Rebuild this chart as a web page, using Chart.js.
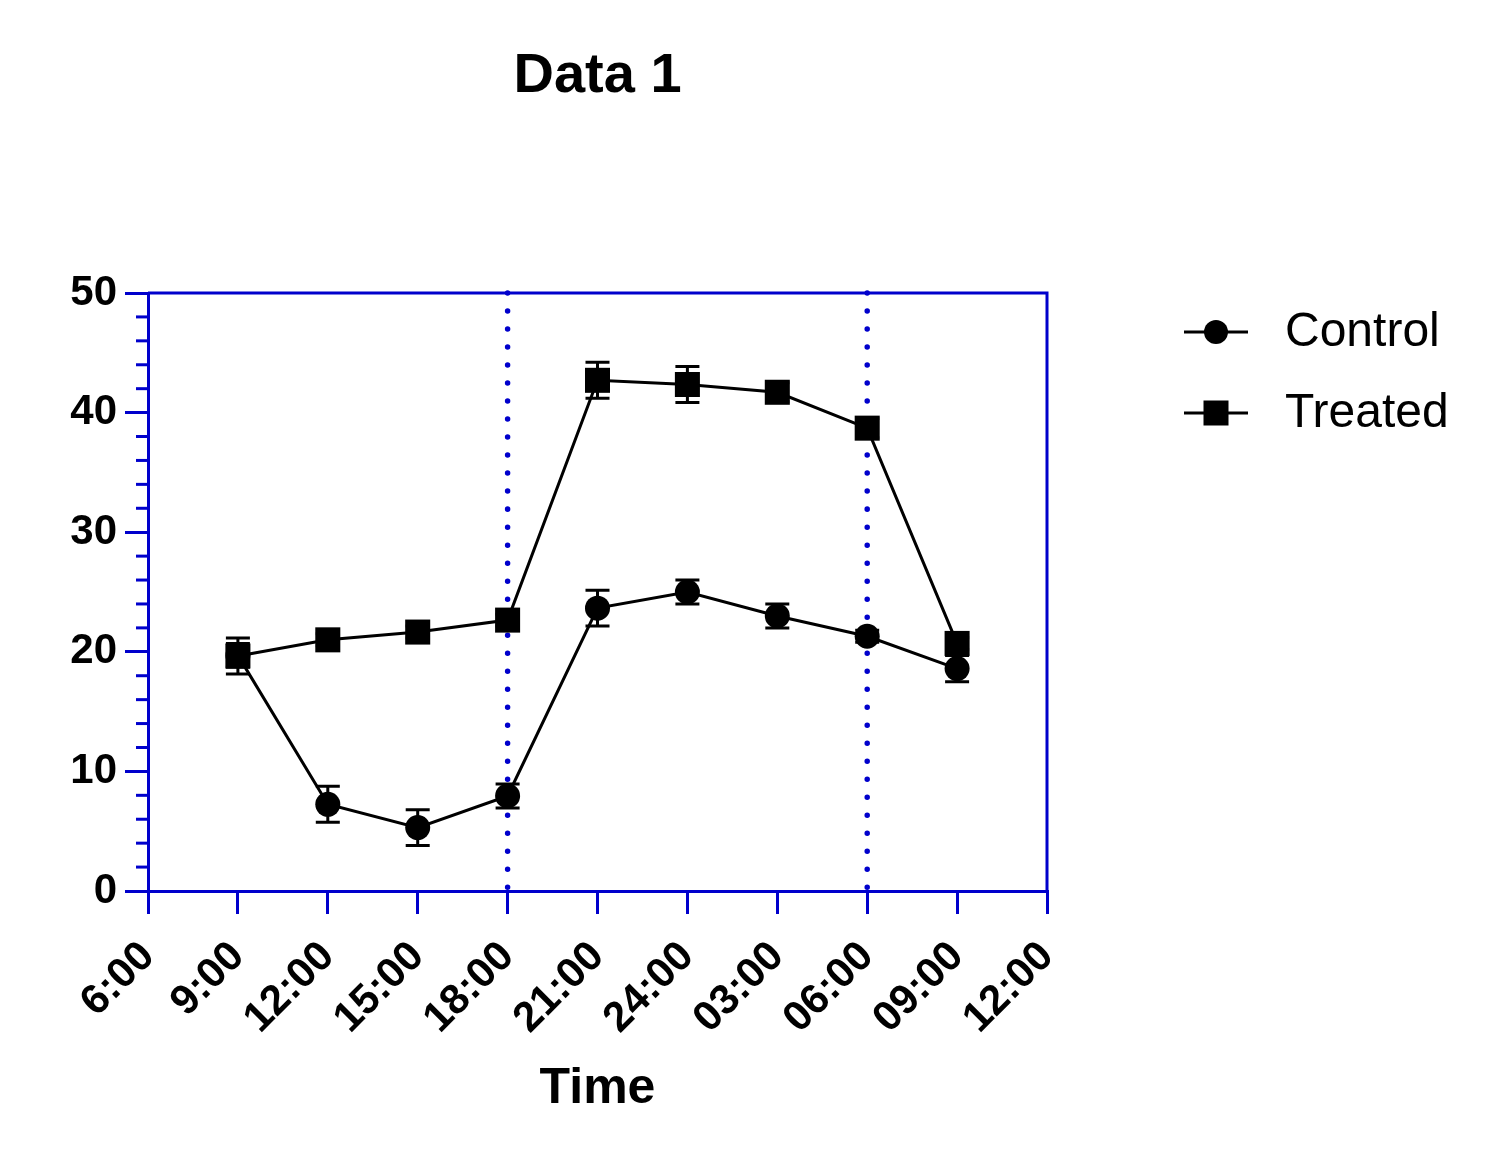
<!DOCTYPE html>
<html>
<head>
<meta charset="utf-8">
<script src="https://cdn.jsdelivr.net/npm/chart.js@4/dist/chart.umd.min.js"></script>
<style>
  html, body { margin: 0; padding: 0; background: #ffffff; }
  #wrap { width: 1492px; height: 1159px; }
</style>
</head>
<body>
<div id="wrap"><canvas id="c" width="1492" height="1159"></canvas></div>
<script>
// ---- data ----
const xHours = [3, 6, 9, 12, 15, 18, 21, 24, 27];           // hours after 6:00
const xTickLabels = ['6:00', '9:00', '12:00', '15:00', '18:00', '21:00', '24:00', '03:00', '06:00', '09:00', '12:00'];
const controlMean = [19.7, 7.25, 5.3, 7.95, 23.65, 25.0, 23.0, 21.3, 18.6];
const controlErr  = [1.0, 1.5, 1.5, 1.0, 1.5, 1.0, 1.0, 0.5, 1.1];
const treatedMean = [19.65, 21.0, 21.65, 22.65, 42.7, 42.35, 41.7, 38.7, 20.7];
const treatedErr  = [1.5, 0.5, 0.5, 0.5, 1.5, 1.5, 0.8, 0.8, 0.5];
const refLines = [12, 24];                                    // 18:00 and 06:00
const seriesNames = ['Control', 'Treated'];
const chartTitle = 'Data 1';
const xTitle = 'Time';

const FONT = "'Liberation Sans', Arial, sans-serif";
const BLUE = '#0000CC';

const toPoints = (ys) => xHours.map((x, i) => ({ x: x, y: ys[i] }));

const errorBars = {
  id: 'errorBars',
  beforeDatasetsDraw(chart) {
    const { ctx, scales: { x, y } } = chart;
    const sets = [[controlMean, controlErr], [treatedMean, treatedErr]];
    ctx.save();
    ctx.strokeStyle = '#000';
    ctx.lineWidth = 3;
    sets.forEach(([m, e]) => {
      xHours.forEach((h, i) => {
        const px = x.getPixelForValue(h);
        const top = y.getPixelForValue(m[i] + e[i]);
        const bot = y.getPixelForValue(m[i] - e[i]);
        ctx.beginPath();
        ctx.moveTo(px, top); ctx.lineTo(px, bot);
        ctx.moveTo(px - 12, top); ctx.lineTo(px + 12, top);
        ctx.moveTo(px - 12, bot); ctx.lineTo(px + 12, bot);
        ctx.stroke();
      });
    });
    ctx.restore();
  }
};

const decorations = {
  id: 'decorations',
  beforeDatasetsDraw(chart) {
    const { ctx, chartArea: a, scales: { x, y } } = chart;
    ctx.save();
    // dotted reference lines
    ctx.strokeStyle = BLUE;
    ctx.lineWidth = 5.5;
    ctx.lineCap = 'round';
    ctx.setLineDash([0.01, 18]);
    refLines.forEach(h => {
      const px = x.getPixelForValue(h);
      ctx.beginPath();
      ctx.moveTo(px, y.getPixelForValue(50));
      ctx.lineTo(px, y.getPixelForValue(0));
      ctx.stroke();
    });
    ctx.setLineDash([]);
    ctx.lineCap = 'butt';
    // box top & right
    ctx.lineWidth = 3;
    ctx.beginPath();
    ctx.moveTo(a.left, a.top); ctx.lineTo(a.right, a.top); ctx.lineTo(a.right, a.bottom);
    ctx.stroke();
    // minor y ticks
    for (let v = 2; v < 50; v += 2) {
      if (v % 10 === 0) continue;
      const py = y.getPixelForValue(v);
      ctx.beginPath();
      ctx.moveTo(a.left - 12, py); ctx.lineTo(a.left, py);
      ctx.stroke();
    }
    ctx.restore();
  },
  afterDraw(chart) {
    const { ctx, chartArea: a } = chart;
    ctx.save();
    // title
    ctx.fillStyle = '#000';
    ctx.font = 'bold 56px ' + FONT;
    ctx.textAlign = 'center';
    ctx.textBaseline = 'middle';
    ctx.fillText(chartTitle, (a.left + a.right) / 2, 77);
    // legend
    const rows = [332, 413];
    rows.forEach((ry, i) => {
      ctx.strokeStyle = '#000';
      ctx.lineWidth = 3;
      ctx.beginPath();
      ctx.moveTo(1184, ry); ctx.lineTo(1248, ry);
      ctx.stroke();
      ctx.fillStyle = '#000';
      if (i === 0) {
        ctx.beginPath(); ctx.arc(1216, ry, 12, 0, Math.PI * 2); ctx.fill();
      } else {
        ctx.fillRect(1216 - 12.5, ry - 12.5, 25, 25);
      }
      ctx.font = '48px ' + FONT;
      ctx.textAlign = 'left';
      ctx.textBaseline = 'middle';
      ctx.fillText(seriesNames[i], 1285, ry + 1);
    });
    ctx.restore();
  }
};

new Chart(document.getElementById('c'), {
  type: 'line',
  data: {
    datasets: [
      {
        label: seriesNames[0],
        data: toPoints(controlMean),
        borderColor: '#000', backgroundColor: '#000',
        borderWidth: 3,
        pointStyle: 'circle', pointRadius: 12.5, pointHoverRadius: 12.5,
        pointBorderWidth: 0, tension: 0
      },
      {
        label: seriesNames[1],
        data: toPoints(treatedMean),
        borderColor: '#000', backgroundColor: '#000',
        borderWidth: 3,
        pointStyle: 'rect', pointRadius: 17.7, pointHoverRadius: 17.7,
        pointBorderWidth: 0, tension: 0
      }
    ]
  },
  options: {
    responsive: false,
    animation: false,
    devicePixelRatio: 1,
    layout: { padding: { top: 293, right: 445, left: 0, bottom: 0 } },
    plugins: {
      legend: { display: false },
      title: { display: false },
      tooltip: { enabled: false }
    },
    scales: {
      x: {
        type: 'linear',
        min: 0, max: 30,
        afterFit(s) { s.height = 1159 - 891; },
        ticks: {
          stepSize: 3,
          autoSkip: false,
          minRotation: 45, maxRotation: 45,
          color: '#000',
          padding: 18,
          font: { family: FONT, size: 42, weight: 'bold' },
          callback: (v) => xTickLabels[Math.round(v / 3)]
        },
        grid: { drawOnChartArea: false, drawTicks: true, tickLength: 23, color: BLUE, lineWidth: 3 },
        border: { color: BLUE, width: 3 },
        title: {
          display: true, text: xTitle, color: '#000',
          font: { family: FONT, size: 50, weight: 'bold' },
          padding: { top: 0, bottom: 40 }
        }
      },
      y: {
        min: 0, max: 50,
        afterFit(s) { s.width = 148; },
        ticks: {
          stepSize: 10,
          color: '#000',
          padding: 8,
          font: { family: FONT, size: 42, weight: 'bold' }
        },
        grid: { drawOnChartArea: false, drawTicks: true, tickLength: 23, color: BLUE, lineWidth: 3 },
        border: { color: BLUE, width: 3 }
      }
    }
  },
  plugins: [decorations, errorBars]
});
</script>
</body>
</html>
